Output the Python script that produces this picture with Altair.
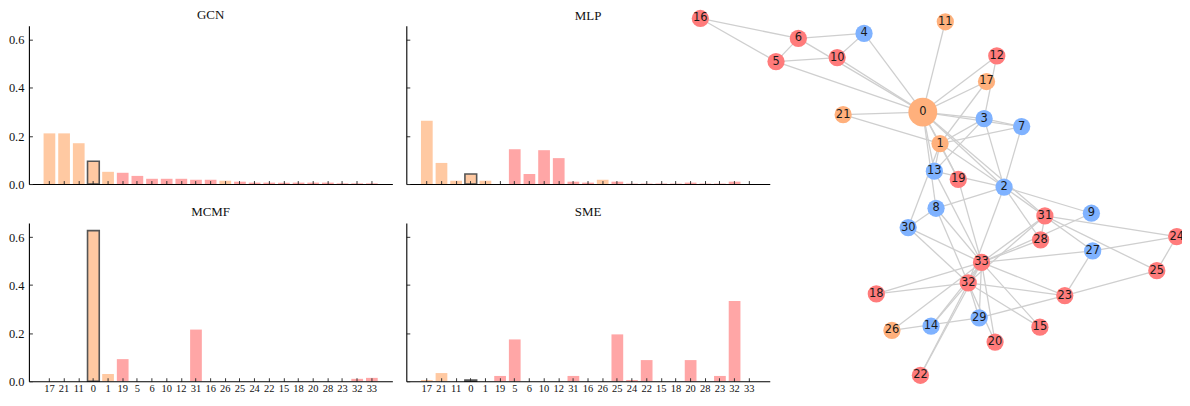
import altair as alt
import pandas as pd

# ---------------- bar-chart data ----------------
categories = ["17", "21", "11", "0", "1", "19", "5", "6", "10", "12", "31", "16",
              "26", "25", "24", "22", "15", "18", "20", "28", "23", "32", "33"]
gcn_values = [0.211, 0.211, 0.170, 0.095, 0.051, 0.047, 0.034, 0.022, 0.022, 0.022, 0.018, 0.018,
              0.014, 0.010, 0.006, 0.006, 0.006, 0.006, 0.006, 0.006, 0.003, 0.003, 0.003]
mlp_values = [0.264, 0.088, 0.014, 0.042, 0.014, 0.0, 0.145, 0.042, 0.141, 0.108, 0.010, 0.006,
              0.018, 0.010, 0.002, 0.002, 0.002, 0.002, 0.006, 0.002, 0.002, 0.010, 0.0]
mcmf_values = [0.0, 0.0, 0.0, 0.627, 0.030, 0.092, 0.0, 0.0, 0.0, 0.0, 0.215, 0.0,
               0.0, 0.0, 0.0, 0.0, 0.0, 0.0, 0.0, 0.0, 0.0, 0.010, 0.014]
sme_values = [0.005, 0.034, 0.0, 0.005, 0.0, 0.022, 0.174, 0.0, 0.0, 0.0, 0.022, 0.0,
              0.0, 0.195, 0.005, 0.088, 0.0, 0.0, 0.088, 0.0, 0.022, 0.334, 0.0]
y_ticks = [0.0, 0.2, 0.4, 0.6]

# ---------------- graph data (karate club) ----------------
orange_nodes = [0, 1, 11, 17, 21, 26]
blue_nodes = [2, 3, 4, 7, 8, 9, 13, 14, 27, 29, 30]
highlight_node = 0

node_ids = list(range(34))
# layout coordinates of the graph drawing
node_x = [926.7, 944.0, 1008.3, 988.3, 867.7, 779.3, 801.7, 1026.0, 940.0, 1096.0,
          840.7, 949.3, 1001.0, 938.3, 935.0, 1044.3, 703.3, 990.7, 880.0, 962.3,
          999.3, 846.7, 924.3, 1069.3, 1181.7, 1161.7, 895.7, 1097.3, 1045.0, 983.3,
          912.0, 1049.3, 972.3, 985.7]
node_y = [110.7, 142.3, 186.0, 117.3, 31.7, 60.0, 36.7, 125.3, 207.3, 212.3,
          56.0, 20.0, 54.3, 170.0, 325.7, 326.7, 16.7, 80.0, 293.3, 178.3,
          341.7, 113.3, 375.0, 295.0, 235.7, 270.0, 330.0, 250.0, 239.0, 317.3,
          226.7, 215.0, 282.3, 261.7]
edge_source = ([0] * 16 + [1] * 8 + [2] * 8 + [3] * 3 + [4] * 2 + [5] * 3 + [6] + [8] * 3 +
               [9, 13, 14, 14, 15, 15, 18, 18, 19, 20, 20, 22, 22] + [23] * 5 + [24] * 3 +
               [25, 26, 26, 27, 28, 28, 29, 29, 30, 30, 31, 31, 32])
edge_target = ([1, 2, 3, 4, 5, 6, 7, 8, 10, 11, 12, 13, 17, 19, 21, 31] +
               [2, 3, 7, 13, 17, 19, 21, 30] + [3, 7, 8, 9, 13, 27, 28, 32] + [7, 12, 13] +
               [6, 10] + [6, 10, 16] + [16] + [30, 32, 33] +
               [33, 33, 32, 33, 32, 33, 32, 33, 33, 32, 33, 32, 33] + [25, 27, 29, 32, 33] +
               [25, 27, 31] + [31, 29, 33, 33, 31, 33, 32, 33, 32, 33, 32, 33, 33])

# ---------------- styles ----------------
SERIF = "Liberation Serif"
BAR_ORANGE = "#FFC9A2"
BAR_RED = "#FFA6A6"
NODE_ORANGE = "#FFB07C"
NODE_RED = "#FF7B7B"
NODE_BLUE = "#7FB2FF"

PANEL_W = 365
PANEL_H = 159


def group_of(n):
    n = int(n)
    if n in orange_nodes:
        return "orange"
    if n in blue_nodes:
        return "blue"
    return "red"


def bar_panel(title, values, show_x_labels, show_y_labels, title_dy=0):
    df = pd.DataFrame({
        "node": categories,
        "value": values,
        "group": [group_of(c) for c in categories],
    })
    x_axis = alt.Axis(
        title=None, labels=show_x_labels, labelAngle=0, labelFont=SERIF, labelFontSize=10.5,
        labelColor="#111111", domainColor="#000000", domainWidth=1.1,
        tickColor="#333333", tickWidth=1, tickSize={"expr": "-3.5"}, labelPadding=6,
        grid=False, zindex=1,
    )
    y_axis = alt.Axis(
        title=None, labels=show_y_labels, values=y_ticks, format=".1f", labelFont=SERIF,
        labelFontSize=12.5, labelColor="#111111", domainColor="#000000", domainWidth=1.1,
        tickColor="#333333", tickWidth=1, tickSize={"expr": "-3.5"}, labelPadding=8.5,
        grid=False, zindex=1,
    )
    return alt.Chart(df).mark_bar().encode(
        x=alt.X("node:N", sort=categories, axis=x_axis,
                scale=alt.Scale(paddingInner=0.2, paddingOuter={"expr": "1.14"})),
        y=alt.Y("value:Q", axis=y_axis, scale=alt.Scale(domain=[0, 0.659], nice=False, zero=True)),
        fill=alt.Fill("group:N", scale=alt.Scale(domain=["orange", "red"], range=[BAR_ORANGE, BAR_RED]),
                      legend=None),
        stroke=alt.condition(alt.datum.node == str(highlight_node), alt.value("#555555"),
                             alt.value("transparent")),
        strokeWidth=alt.condition(alt.datum.node == str(highlight_node), alt.value(1.6), alt.value(0)),
    ).properties(
        width=PANEL_W, height=PANEL_H,
        title=alt.Title(title, font=SERIF, fontSize=13, fontWeight="normal", color="#111111",
                        offset=4, frame="group", dy=title_dy),
    )


gcn = bar_panel("GCN", gcn_values, False, True)
mlp = bar_panel("MLP", mlp_values, False, False, title_dy=17)
mcmf = bar_panel("MCMF", mcmf_values, True, True)
sme = bar_panel("SME", sme_values, True, False)

# ---------------- network (drawn from the MLP panel's frame, overflowing to the right) ----------------
nodes_df = pd.DataFrame({
    "node": node_ids,
    "x": node_x,
    "y": node_y,
    "group": [group_of(n) for n in node_ids],
})
edges_df = pd.DataFrame({
    "x": [node_x[s] for s in edge_source],
    "y": [node_y[s] for s in edge_source],
    "x2": [node_x[t] for t in edge_target],
    "y2": [node_y[t] for t in edge_target],
})

xs = alt.Scale(domain=[408, 773], nice=False, zero=False)
ys = alt.Scale(domain=[24, 183], nice=False, zero=False, reverse=True)

edges = alt.Chart(edges_df).mark_rule(color="#cfcfcf", strokeWidth=1.3).encode(
    x=alt.X("x:Q", scale=xs, axis=None),
    y=alt.Y("y:Q", scale=ys, axis=None),
    x2="x2:Q",
    y2="y2:Q",
)
nodes = alt.Chart(nodes_df).mark_circle(opacity=1).encode(
    x=alt.X("x:Q", scale=xs, axis=None),
    y=alt.Y("y:Q", scale=ys, axis=None),
    color=alt.Color("group:N", scale=alt.Scale(domain=["orange", "red", "blue"],
                                               range=[NODE_ORANGE, NODE_RED, NODE_BLUE]), legend=None),
    size=alt.condition(alt.datum.node == highlight_node, alt.value(840), alt.value(300)),
)
labels = alt.Chart(nodes_df).mark_text(font="DejaVu Sans", fontSize=11.5, color="#1a1a1a").encode(
    x=alt.X("x:Q", scale=xs, axis=None),
    y=alt.Y("y:Q", scale=ys, axis=None),
    text="node:N",
)
network = alt.layer(edges, nodes, labels)

mlp_with_net = alt.layer(mlp, network).resolve_scale(
    x="independent", y="independent", color="independent", fill="independent"
).resolve_axis(x="independent", y="independent")

chart = alt.concat(
    gcn, mlp_with_net, mcmf, sme, columns=2,
    spacing={"row": 39, "column": 14}, bounds="flush",
).properties(
    padding={"top": 0, "left": 0, "right": -4, "bottom": -2}, background="white"
).configure_view(stroke=None)

chart.save("out.html", embed_options={"renderer": "svg", "actions": False})
